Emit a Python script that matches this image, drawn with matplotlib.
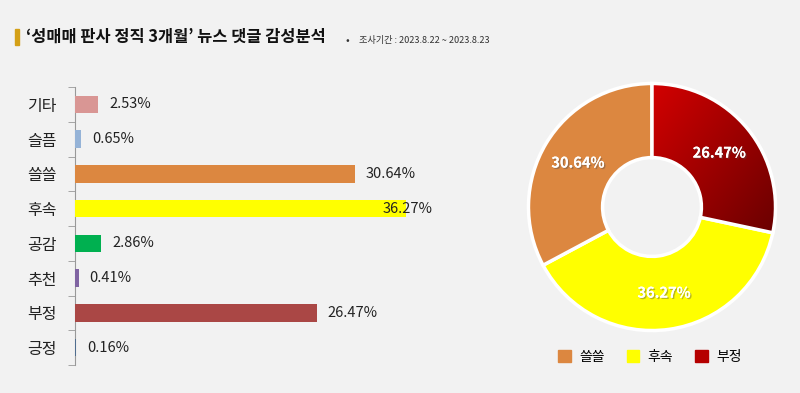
import numpy as np
import matplotlib.pyplot as plt
from matplotlib.patches import Patch
from matplotlib.colors import LinearSegmentedColormap
import matplotlib.patheffects as pe

plt.rcParams['font.family'] = ['Noto Sans CJK KR', 'DejaVu Sans']

# data
categories = ['기타', '슬픔', '쓸쓸', '후속', '공감', '추천', '부정', '긍정']
values = [2.53, 0.65, 30.64, 36.27, 2.86, 0.41, 26.47, 0.16]
bar_colors = ['#d99694', '#95b3d7', '#dc8740', '#ffff00', '#00b050', '#8064a2', '#aa4745', '#4f6d8f']

pie_labels = ['부정', '후속', '쓸쓸']
pie_values = [26.47, 36.27, 30.64]
pie_colors = ['#b50000', '#ffff00', '#dc8740']

title = '‘성매매 판사 정직 3개월’ 뉴스 댓글 감성분석'
period = '조사기간 : 2023.8.22 ~ 2023.8.23'

bg = '#f2f2f2'
fig = plt.figure(figsize=(8, 3.93), dpi=100, facecolor=bg)

# title
fig.patches.append(plt.Rectangle((15/800, 1-45/393), 4/800, 16/393, transform=fig.transFigure,
                                 color='#d4a017', figure=fig))
fig.text(26/800, 1-37/393, title, fontsize=11.8, fontweight='bold', va='center', ha='left', color='#111111')
fig.text(345/800, 1-41/393, '•', fontsize=8, va='center', ha='left', color='#333333')
fig.text(359/800, 1-41/393, period, fontsize=6.6, va='center', ha='left', color='#333333')

# bar chart
ax = fig.add_axes([75/800, 1-365/393, 365/800, 278/393])
ax.set_facecolor(bg)
y = np.arange(len(categories))
ax.barh(y, values, height=0.5, color=bar_colors)
ax.set_ylim(len(categories)-0.5, -0.5)
ax.set_xlim(0, 40)
ax.set_yticks(y)
ax.set_yticklabels(categories, fontsize=11.5, color='#222222')
ax.set_yticks(np.arange(-0.5, len(categories)), minor=True)
ax.tick_params(axis='y', which='major', length=0, pad=13)
ax.tick_params(axis='y', which='minor', length=5, color='#999999', direction='out')
ax.set_xticks([])
for s in ['top', 'right', 'bottom']:
    ax.spines[s].set_visible(False)
ax.spines['left'].set_color('#999999')
ax.spines['left'].set_zorder(0.5)
vmax = max(values)
for yi, v in zip(y, values):
    dx = -23 if v == vmax else 11
    ax.annotate(f'{v:.2f}%', (v, yi), xytext=(dx, 0), textcoords='offset pixels',
                va='center', ha='left', fontsize=10.5, color='#222222')

# donut
ax2 = fig.add_axes([(652-126)/800, (393-207-126)/393, 252/800, 252/393])
ax2.set_facecolor(bg)
wedges, texts = ax2.pie(pie_values, colors=pie_colors, startangle=90, counterclock=False,
                        labels=[f'{v:.2f}%' for v in pie_values], labeldistance=0.7,
                        wedgeprops=dict(width=0.6, edgecolor='white', linewidth=2.5))
# diagonal gradient on the red slice (bright top-left, dark bottom-right)
cmap = LinearSegmentedColormap.from_list('red', ['#d40000', '#650000'])
gx, gy = np.meshgrid(np.linspace(0, 1, 200), np.linspace(0, 1, 200))
grad = (gx + gy) / 2
im = ax2.imshow(grad, cmap=cmap, extent=(0, 1.02, -0.3, 1.02), origin='upper', zorder=1.5,
                interpolation='bilinear')
im.set_clip_path(wedges[0])
wedges[0].set_zorder(1.6)
wedges[0].set_facecolor('none')
for t in texts:
    t.set_color('white')
    t.set_fontsize(10.5)
    t.set_fontweight('bold')
    t.set_ha('center')
    t.set_zorder(3)
    t.set_path_effects([pe.withSimplePatchShadow(offset=(1, -1), alpha=0.4), pe.Normal()])
ax2.set_xlim(-1.02, 1.02)
ax2.set_ylim(-1.02, 1.02)
ax2.set_aspect('equal')
ax2.axis('off')

order = [2, 1, 0]
handles = [Patch(color=pie_colors[i], label=pie_labels[i]) for i in order]
fig.legend(handles=handles, loc='center', bbox_to_anchor=(650/800, 1-357/393), ncol=3,
           frameon=False, fontsize=10, handlelength=0.9, handleheight=0.9,
           columnspacing=1.6, handletextpad=0.6)

fig.savefig('out.png', dpi=100, facecolor=bg)
